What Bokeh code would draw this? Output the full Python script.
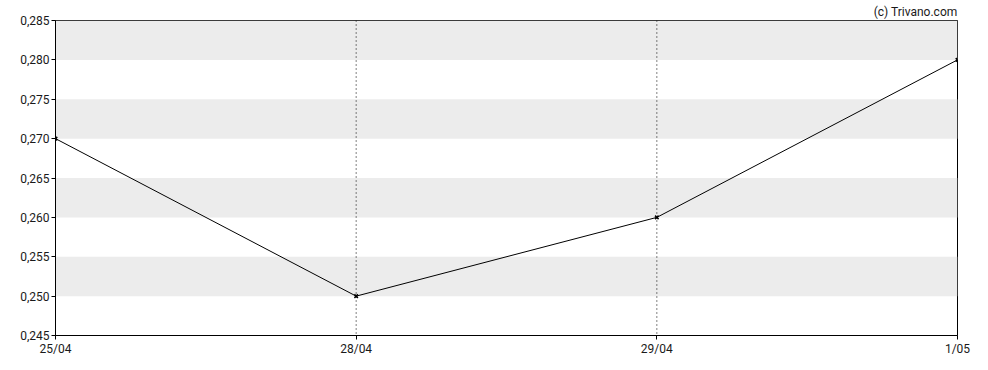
from bokeh.plotting import figure
from bokeh.models import (Range1d, FixedTicker, CustomJSTickFormatter, Span, Title)
from bokeh.embed import file_html
from bokeh.resources import INLINE

# Data
dates = ["25/04", "28/04", "29/04", "1/05"]
prices = [0.270, 0.250, 0.260, 0.280]
y_ticks = [0.245, 0.250, 0.255, 0.260, 0.265, 0.270, 0.275, 0.280, 0.285]
band_bottoms = [0.250, 0.260, 0.270, 0.280]
band_tops = [0.255, 0.265, 0.275, 0.285]
credit = "(c) Trivano.com"

xs = list(range(len(dates)))
FONT = "Roboto"
TXT = "#1a1a1a"

p = figure(width=988, height=370, output_backend="svg", toolbar_location=None,
           x_range=Range1d(xs[0], xs[-1]), y_range=Range1d(y_ticks[0], y_ticks[-1]),
           min_border_left=55, min_border_right=31, min_border_top=20, min_border_bottom=35)
p.background_fill_color = "white"
p.border_fill_color = "white"
p.outline_line_color = "black"
p.outline_line_alpha = 1
p.grid.visible = False

t = Title(text=credit, align="right", text_font=FONT, text_font_size="12px",
          text_font_style="normal", text_color=TXT, standoff=3, offset=0)
p.add_layout(t, "above")

# gray bands
p.quad(left=xs[0], right=xs[-1], bottom=band_bottoms, top=band_tops,
       fill_color="#ececec", line_color=None)

# vertical dotted lines at interior dates
for xv in xs[1:-1]:
    p.add_layout(Span(location=xv, dimension="height", line_color="black",
                      line_dash="1 3", line_width=1))

p.line(xs, prices, line_color="black", line_width=1)
p.scatter(xs, prices, marker="x", size=5, line_color="black", line_width=1.5)

# axes
p.xaxis.ticker = FixedTicker(ticks=xs)
p.xaxis.major_label_overrides = {i: d for i, d in enumerate(dates)}
p.yaxis.ticker = FixedTicker(ticks=y_ticks)
p.yaxis.formatter = CustomJSTickFormatter(code="return tick.toFixed(3).replace('.', ',');")
for ax in (p.xaxis, p.yaxis):
    ax.axis_line_color = "black"
    ax.major_tick_line_color = "black"
    ax.major_tick_out = 4
    ax.major_tick_in = 0
    ax.minor_tick_line_color = None
    ax.major_label_text_font = FONT
    ax.major_label_text_font_size = "12px"
    ax.major_label_text_color = TXT
    ax.major_label_standoff = 2

open("out.html", "w").write(file_html(p, INLINE))
